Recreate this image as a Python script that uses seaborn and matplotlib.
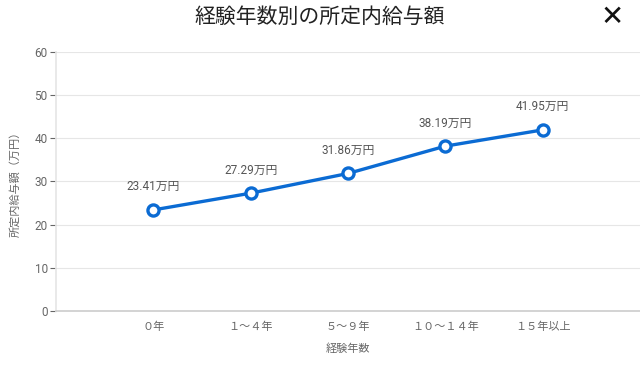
import pandas as pd
import seaborn as sns
import matplotlib.pyplot as plt

sns.set_theme(style="whitegrid")
plt.rcParams['font.family'] = ['Noto Sans CJK JP', 'DejaVu Sans']

categories = ["０年", "１～４年", "５～９年", "１０～１４年", "１５年以上"]
salary = [23.41, 27.29, 31.86, 38.19, 41.95]
value_labels = ["23.41万円", "27.29万円", "31.86万円", "38.19万円", "41.95万円"]

df = pd.DataFrame({"経験年数": categories, "給与": salary})

fig = plt.figure(figsize=(6.4, 3.7), dpi=100)
ax = fig.add_axes([0.0875, 0.1595, 0.9125, 0.70])

blue = "#0b6bd3"
sns.lineplot(data=df, x="経験年数", y="給与", ax=ax, color=blue, linewidth=2.4,
             marker="o", markersize=8, markerfacecolor="white",
             markeredgecolor=blue, markeredgewidth=2.4, sort=False)

for i, (v, lab) in enumerate(zip(salary, value_labels)):
    ax.annotate(lab, (i, v), xytext=(0, 12), textcoords="offset points",
                ha="center", va="bottom", fontsize=8.5, color="#555555",
                family=["Roboto", "Noto Sans CJK JP"])

ax.set_xlim(-1, 5)
ax.set_ylim(0, 60)
ax.set_yticks(range(0, 61, 10))
ax.grid(axis="x", visible=False)
ax.grid(axis="y", color="#e6e6e6", linewidth=0.8)

ax.tick_params(axis="y", labelsize=8.5, colors="#666666", length=4, width=0.8,
               left=True, pad=2)
ax.tick_params(axis="x", labelsize=8, colors="#666666", length=0, pad=8)
for lab in ax.get_yticklabels():
    lab.set_color("#666666")
    lab.set_family(["Roboto"])

ax.set_xlabel("経験年数", fontsize=8, color="#666666", labelpad=8)
ax.set_ylabel("所定内給与額（万円）", fontsize=8, color="#666666", labelpad=10)

for s in ["top", "right"]:
    ax.spines[s].set_visible(False)
ax.spines["left"].set_color("#e6e6e6")
ax.spines["bottom"].set_color("#cccccc")
ax.spines["bottom"].set_linewidth(1.2)

fig.text(0.5, 0.955, "経験年数別の所定内給与額", ha="center", va="center",
         fontsize=15, color="#222222")
fig.text(0.956, 0.955, "✕", ha="center", va="center", fontsize=20,
         fontweight="bold", color="#111111", family=["DejaVu Sans"])

fig.savefig("out.png", dpi=100)
